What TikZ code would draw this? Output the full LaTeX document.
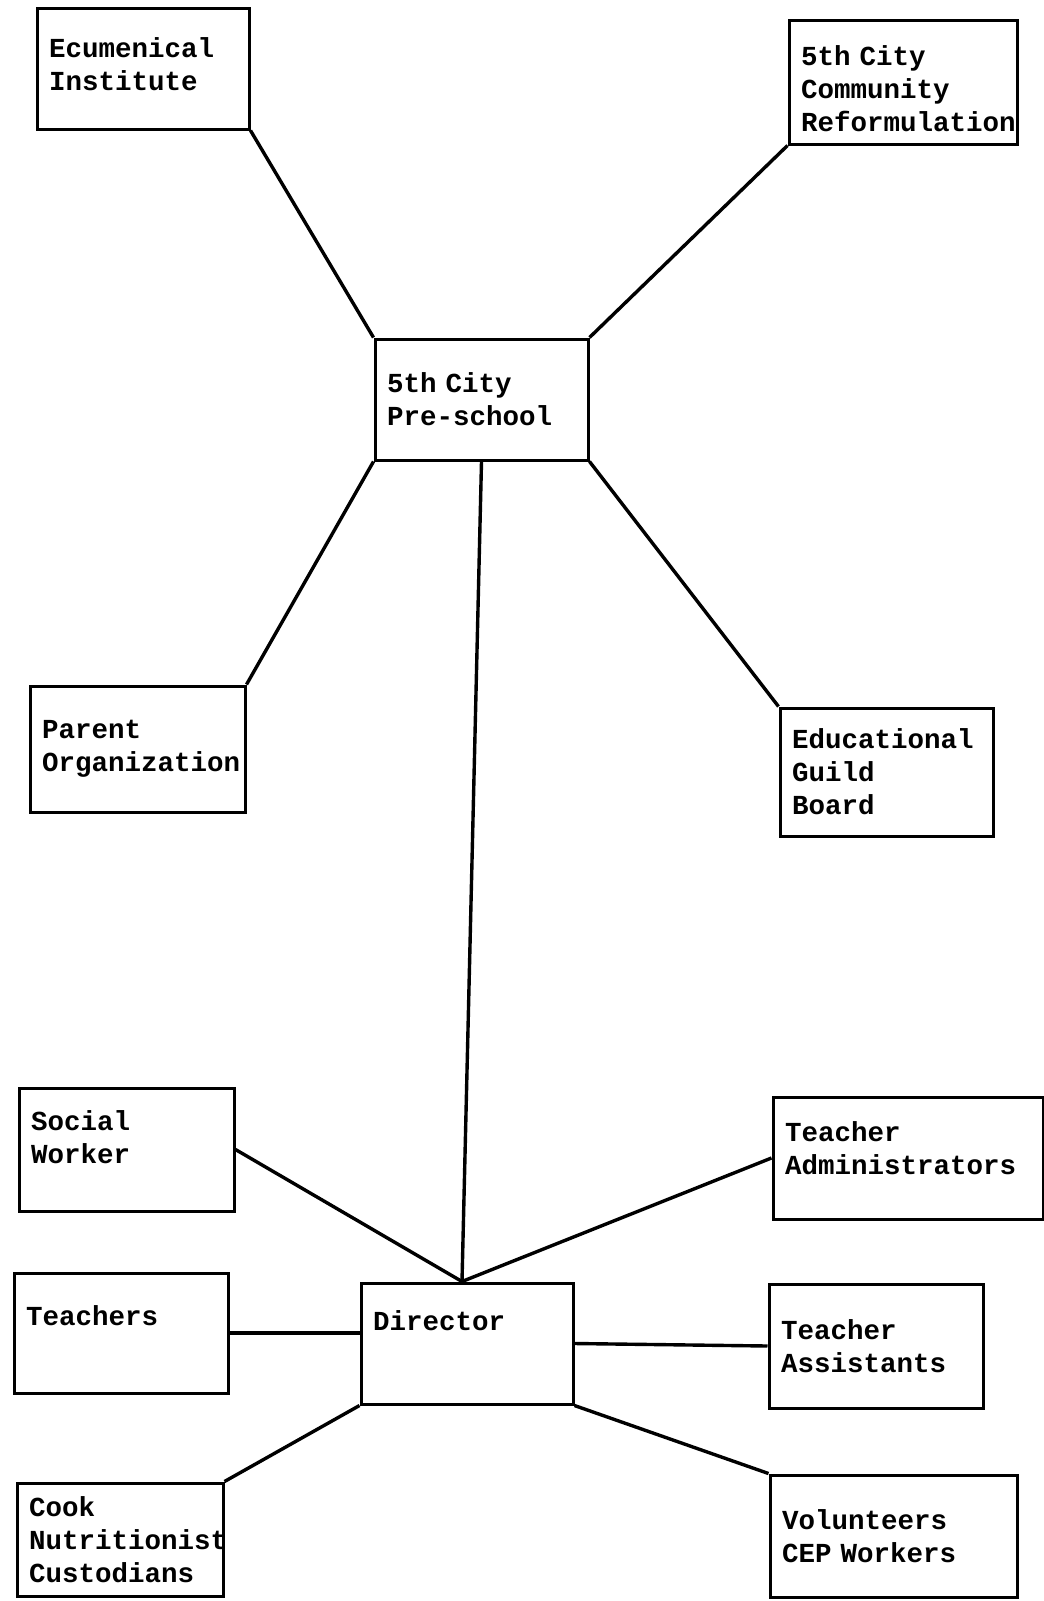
\documentclass[tikz,border=0pt]{standalone}
\usepackage{fontspec}
\newfontfamily\chartfont{Liberation Mono}
\newcommand{\drop}[1]{\rule[-#1pt]{0pt}{#1pt}}
\newcommand{\sink}[1]{\rule{0pt}{#1pt}}
\tikzset{
  box/.code 2 args={\pgfmathsetmacro\boxtw{#1-24}%
    \tikzset{draw, line width=3pt, inner sep=0pt, align=left,
      minimum width=#1pt, minimum height=#2pt, text width=\boxtw pt,
      font=\chartfont\bfseries\fontsize{27.5}{33}\selectfont}},
  link/.style={line width=3.4pt},
}
\begin{document}
\begin{tikzpicture}[x=1pt, y=-1pt]
\useasboundingbox (0,0) rectangle (1044,1601);
% boards around the pre-school
\node[box={212}{121}] (ecum) at (143,68.5) {Ecumenical\\Institute\drop{8}};
\node[box={228}{124}] (comm) at (903,82) {\sink{34}5th City\\Community\\Reformulation};
\node[box={213}{121}] (pre) at (481.5,399.5) {5th City\\Pre-school};
\node[box={215}{126}] (parent) at (137.5,749) {Parent\\Organization};
\node[box={213}{128}] (guild) at (886.5,772) {Educational\\Guild\\Board};
% staff around the director
\node[box={215}{123}] (social) at (126.5,1149.5) {Social\\Worker\drop{25}};
\node[box={270}{122}] (tadmin) at (908,1158) {Teacher\\Administrators\drop{19}};
\node[box={214}{120}] (teach) at (121,1333) {Teachers\drop{34}};
\node[box={212}{121}] (dir) at (467,1343.5) {Director\drop{45}};
\node[box={214}{124}] (tassist) at (876,1346) {Teacher\\Assistants};
\node[box={206}{113}] (cook) at (120,1539.5) {Cook\\Nutritionist\\Custodians};
\node[box={247}{122}] (vol) at (893.5,1536) {Volunteers\\CEP Workers};
\coordinate (hub) at ([xshift=-5pt]dir.north);
% links
\draw[link] (ecum.south east) -- (pre.north west);
\draw[link] (comm.south west) -- (pre.north east);
\draw[link] (pre.south west) -- (parent.north east);
\draw[link] (pre.south east) -- (guild.north west);
\draw[link] (pre.south) -- (hub);
\draw[link] (social.east) -- (hub);
\draw[link] (tadmin.west) -- (hub);
\draw[link] (teach.east) -- (teach.east -| dir.west);
\draw[link] (dir.east) -- (tassist.west);
\draw[link] (dir.south west) -- (cook.north east);
\draw[link] (dir.south east) -- (vol.north west);
\end{tikzpicture}
\end{document}
